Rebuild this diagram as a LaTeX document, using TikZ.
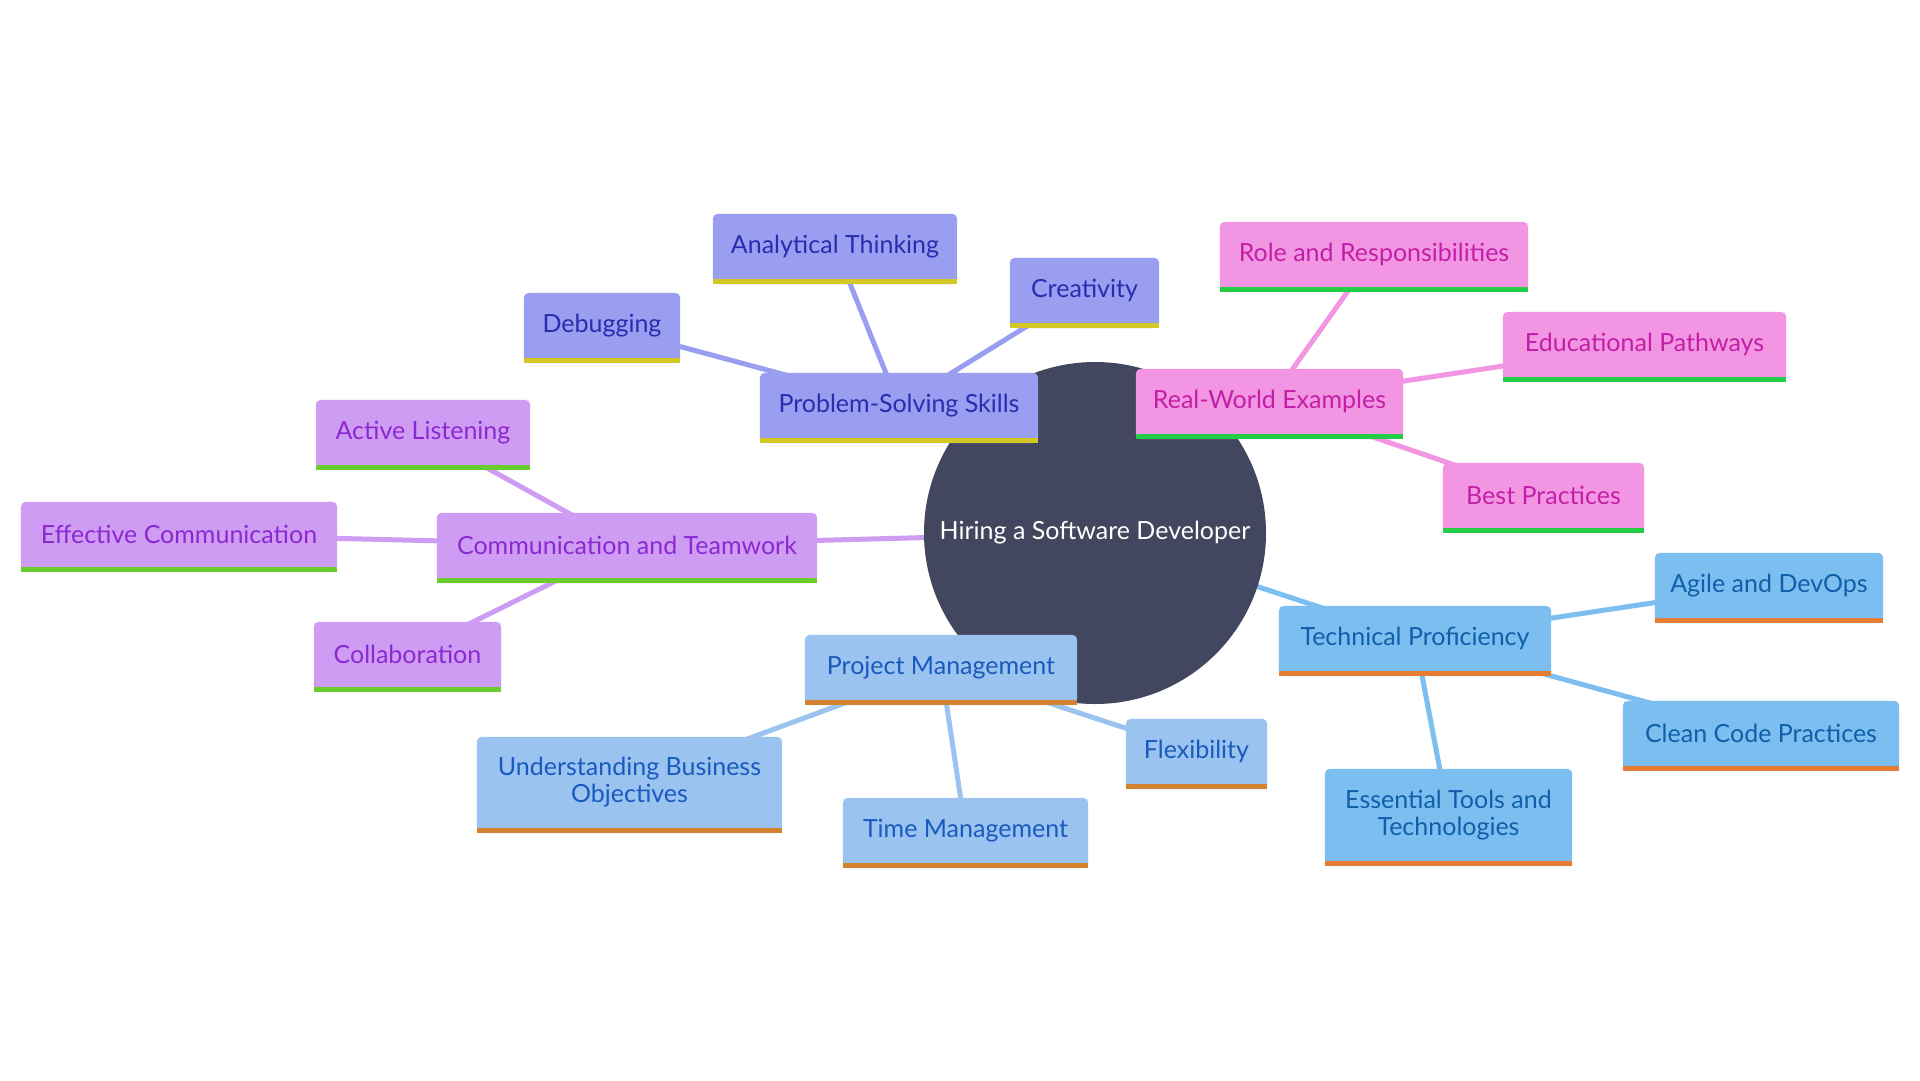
\documentclass[tikz,border=0pt]{standalone}
\usepackage{fontspec}
\setmainfont{Lato}
\pgfdeclarelayer{bg}
\pgfdeclarelayer{mid}
\pgfsetlayers{bg,mid,main}
\definecolor{rootc}{RGB}{66,70,94}
\definecolor{psfill}{RGB}{153,158,240}
\definecolor{pstext}{RGB}{43,43,175}
\definecolor{psbar}{RGB}{212,200,38}
\definecolor{rwfill}{RGB}{242,150,228}
\definecolor{rwtext}{RGB}{195,30,165}
\definecolor{rwbar}{RGB}{35,205,70}
\definecolor{ctfill}{RGB}{206,156,242}
\definecolor{cttext}{RGB}{140,40,210}
\definecolor{ctbar}{RGB}{105,205,45}
\definecolor{pmfill}{RGB}{155,195,240}
\definecolor{pmtext}{RGB}{25,90,190}
\definecolor{pmbar}{RGB}{212,130,45}
\definecolor{tpfill}{RGB}{125,190,240}
\definecolor{tptext}{RGB}{15,95,170}
\definecolor{tpbar}{RGB}{230,125,50}
\tikzset{
  boxtext/.style={rectangle, inner sep=0pt, align=center, font=\fontsize{25}{27}\selectfont},
  rootnode/.style={circle, fill=rootc, text=white, minimum size=342pt, inner sep=0pt, font=\fontsize{25}{27}\selectfont},
  edge/.style={line width=5pt}
}
\newcommand\mmbox[7]{%
  \node[boxtext, text=#6text, minimum width=#4pt, minimum height=#5pt] (#1) at (#2,#3) {#7};
  \begin{pgfonlayer}{mid}
    \fill[#6fill, rounded corners=5pt] ([yshift=-5pt]#1.south west) -- (#1.north west) -- (#1.north east) -- ([yshift=-5pt]#1.south east) -- cycle;
    \fill[#6bar] (#1.south west) rectangle ([yshift=-5pt]#1.south east);
  \end{pgfonlayer}
}
\begin{document}
\begin{tikzpicture}[x=1pt,y=-1pt]
\useasboundingbox (0,0) rectangle (1920,1080);
\begin{pgfonlayer}{bg}
  \fill[white] (0,0) rectangle (1920,1080);
\end{pgfonlayer}
\begin{pgfonlayer}{mid}
  \node[rootnode] (root) at (1095,533) {Hiring a Software Developer};
\end{pgfonlayer}
% Problem-Solving branch
\mmbox{ps}{899}{405.5}{278}{65}{ps}{Problem-Solving Skills}
\mmbox{at}{835}{246.5}{244}{65}{ps}{Analytical Thinking}
\mmbox{cr}{1084.5}{290.5}{149}{65}{ps}{Creativity}
\mmbox{db}{602}{325.5}{156}{65}{ps}{Debugging}
% Real-World branch
\mmbox{rw}{1269.5}{401.5}{267}{65}{rw}{Real-World Examples}
\mmbox{rr}{1374}{254.5}{308}{65}{rw}{Role and Responsibilities}
\mmbox{ep}{1644.5}{344.5}{283}{65}{rw}{Educational Pathways}
\mmbox{bp}{1543.5}{495.5}{201}{65}{rw}{Best Practices}
% Communication branch
\mmbox{ct}{627}{545.5}{380}{65}{ct}{Communication and Teamwork}
\mmbox{al}{423}{432.5}{214}{65}{ct}{Active Listening}
\mmbox{ec}{179}{534.5}{316}{65}{ct}{Effective Communication}
\mmbox{co}{407.5}{654.5}{187}{65}{ct}{Collaboration}
% Project Management branch
\mmbox{pm}{941}{667.5}{272}{65}{pm}{Project Management}
\mmbox{ub}{629.5}{782.5}{305}{91}{pm}{Understanding Business\\Objectives}
\mmbox{tm}{965.5}{830.5}{245}{65}{pm}{Time Management}
\mmbox{fl}{1196.5}{751.5}{141}{65}{pm}{Flexibility}
% Technical branch
\mmbox{tp}{1415}{638.5}{272}{65}{tp}{Technical Proficiency}
\mmbox{ad}{1769}{585.5}{228}{65}{tp}{Agile and DevOps}
\mmbox{cc}{1761}{733.5}{276}{65}{tp}{Clean Code Practices}
\mmbox{et}{1448.5}{815}{247}{92}{tp}{Essential Tools and\\Technologies}
\begin{pgfonlayer}{bg}
  \draw[edge, psfill] (root.center) -- (ps.center);
  \draw[edge, psfill] (ps.center) -- (at.center);
  \draw[edge, psfill] (ps.center) -- (cr.center);
  \draw[edge, psfill] (ps.center) -- (db.center);
  \draw[edge, rwfill] (root.center) -- (rw.center);
  \draw[edge, rwfill] (rw.center) -- (rr.center);
  \draw[edge, rwfill] (rw.center) -- (ep.center);
  \draw[edge, rwfill] (rw.center) -- (bp.center);
  \draw[edge, ctfill] (root.center) -- (ct.center);
  \draw[edge, ctfill] (ct.center) -- (al.center);
  \draw[edge, ctfill] (ct.center) -- (ec.center);
  \draw[edge, ctfill] (ct.center) -- (co.center);
  \draw[edge, pmfill] (root.center) -- (pm.center);
  \draw[edge, pmfill] (pm.center) -- (ub.center);
  \draw[edge, pmfill] (pm.center) -- (tm.center);
  \draw[edge, pmfill] (pm.center) -- (fl.center);
  \draw[edge, tpfill] (root.center) -- (tp.center);
  \draw[edge, tpfill] (tp.center) -- (ad.center);
  \draw[edge, tpfill] (tp.center) -- (cc.center);
  \draw[edge, tpfill] (tp.center) -- (et.center);
\end{pgfonlayer}
\end{tikzpicture}
\end{document}
